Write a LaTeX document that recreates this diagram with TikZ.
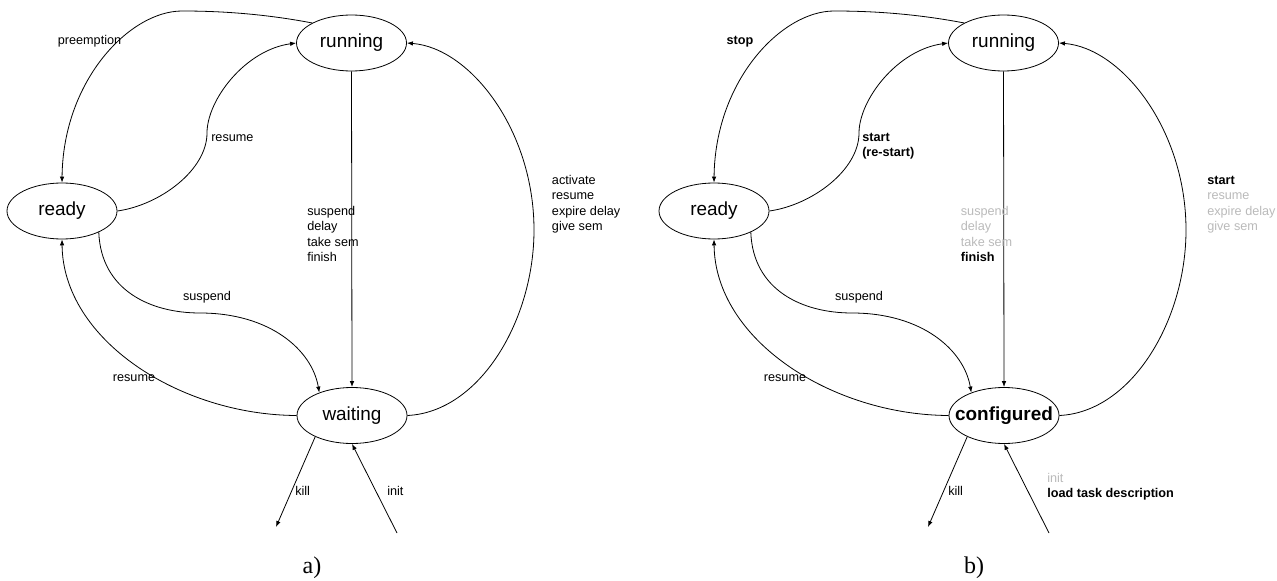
\documentclass[tikz,border=0pt]{standalone}
\usepackage{fontspec}
\setmainfont{Liberation Sans}
\newfontfamily\capfont{Liberation Serif}
\usetikzlibrary{arrows.meta}
\usetikzlibrary{shapes.geometric}

\colorlet{faded}{black!27}
\newcommand{\dimmed}[1]{\textcolor{faded}{#1}}

\tikzset{
	state/.style={draw, ellipse, line width=0.6pt, minimum width=82.5pt, minimum height=42pt, inner sep=0pt, font=\fontsize{14.2}{17}\selectfont},
	trans/.style={-{Latex[length=4.5pt,width=3.4pt]}, line width=0.6pt},
	lbl/.style={font=\fontsize{9.5}{11.6}\selectfont, inner sep=0pt, align=left},
	caption/.style={font=\capfont\fontsize{18}{20}\selectfont, inner sep=0pt}
}

\begin{document}
\begin{tikzpicture}[x=0.75pt,y=-0.75pt]
	\useasboundingbox (0,0) rectangle (1277,581);
	% a) task states
	\node[state] (run) at (351.5,43) {running};
	\node[state] (ready) at (62,211) {ready};
	\node[state] (wait) at (352,415.5) {waiting};
	\coordinate (killend) at (276,527);
	\coordinate (initstart) at (397,533);

	\draw[trans] (run.153) .. controls (260,13) and (215,11) .. (182,11)
		.. controls (130,11) and (63,80) .. (ready.north);
	\draw[trans] (ready.east) .. controls (160,205) and (207,170) .. (207,133)
		.. controls (207,100) and (245,50) .. (run.west);
	\draw[trans] (run.south) -- (wait.north);
	\draw[trans] (wait.east) .. controls (480,412) and (534,320) .. (534,230)
		.. controls (534,130) and (470,48) .. (run.east);
	\draw[trans] (ready.-30) .. controls (101,290) and (150,313) .. (200,313)
		.. controls (270,313) and (312,350) .. (wait.145);
	\draw[trans] (wait.west) .. controls (180,415) and (63,340) .. (ready.south);
	\draw[trans] (wait.210) -- (killend);
	\draw[trans] (initstart) -- (wait.south);

	% base anchor of a multi-line label = baseline of its last line
	\node[lbl, anchor=base] (lpre) at (89.5,44.5) {preemption};
	\node[lbl, anchor=base west] (lres) at (211,141.5) {resume};
	\node[lbl, anchor=base west] (lleave) at (307,261.5) {suspend\\delay\\take sem\\finish};
	\node[lbl, anchor=base west] (lwake) at (551.7,230.5) {activate\\resume\\expire delay\\give sem};
	\node[lbl, anchor=base] (lsus) at (207,300.5) {suspend};
	\node[lbl, anchor=base] (lback) at (134,381.5) {resume};
	\node[lbl, anchor=base west] (lkill) at (295,495.5) {kill};
	\node[lbl, anchor=base west] (linit) at (387,495.5) {init};
	\node[caption, anchor=base] (capa) at (312,573) {a)};

	% b) component states
	\begin{scope}[shift={(652,0)}]
		\node[state] (brun) at (351.5,43) {running};
		\node[state] (bready) at (62,211) {ready};
		\node[state] (conf) at (352,415.5) {\makebox[0pt]{\textbf{configured}}};
		\coordinate (bkillend) at (276,527);
		\coordinate (bloadstart) at (397,533);

		\draw[trans] (brun.153) .. controls (260,13) and (215,11) .. (182,11)
			.. controls (130,11) and (63,80) .. (bready.north);
		\draw[trans] (bready.east) .. controls (160,205) and (207,170) .. (207,133)
			.. controls (207,100) and (245,50) .. (brun.west);
		\draw[trans] (brun.south) -- (conf.north);
		\draw[trans] (conf.east) .. controls (480,412) and (534,320) .. (534,230)
			.. controls (534,130) and (470,48) .. (brun.east);
		\draw[trans] (bready.-30) .. controls (101,290) and (150,313) .. (200,313)
			.. controls (270,313) and (312,350) .. (conf.145);
		\draw[trans] (conf.west) .. controls (180,415) and (63,340) .. (bready.south);
		\draw[trans] (conf.210) -- (bkillend);
		\draw[trans] (bloadstart) -- (conf.south);

		\node[lbl, anchor=base] (bstop) at (88,44.5) {\textbf{stop}};
		\node[lbl, anchor=base west] (bstart) at (210,156.5) {\textbf{start}\\\textbf{(re-start)}};
		\node[lbl, anchor=base west] (bleave) at (308.6,261.5) {\dimmed{suspend}\\\dimmed{delay}\\\dimmed{take sem}\\\textbf{finish}};
		\node[lbl, anchor=base west] (bwake) at (555,230.5) {\textbf{start}\\\dimmed{resume}\\\dimmed{expire delay}\\\dimmed{give sem}};
		\node[lbl, anchor=base] (bsus) at (207,300.5) {suspend};
		\node[lbl, anchor=base] (bback) at (133,381.5) {resume};
		\node[lbl, anchor=base west] (bkill) at (296,495.5) {kill};
		\node[lbl, anchor=base west] (bload) at (395,497.5) {\dimmed{init}\\\textbf{load task description}};
		\node[caption, anchor=base] (capb) at (322,573) {b)};
	\end{scope}
\end{tikzpicture}
\end{document}
